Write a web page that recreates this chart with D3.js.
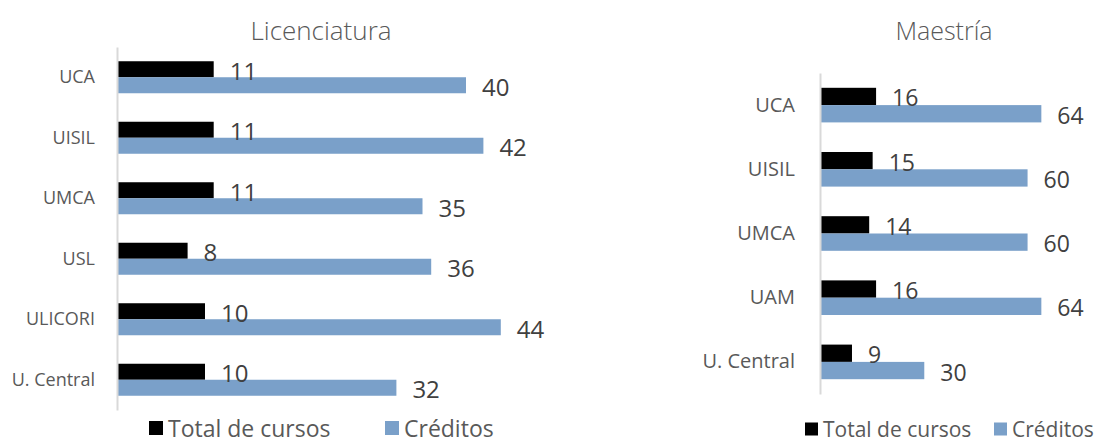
<!DOCTYPE html>
<html>
<head>
<meta charset="utf-8">
<script src="https://cdn.jsdelivr.net/npm/d3@7"></script>
<style>
  body { margin: 0; background: #fff; }
  svg { display: block; font-family: "Open Sans", sans-serif; }
</style>
</head>
<body>
<div class="canvas"></div>
<script>
// data
const seriesNames = ['Total de cursos', 'Créditos'];

const licCategories = ['UCA', 'UISIL', 'UMCA', 'USL', 'ULICORI', 'U. Central'];
const licCursos = [11, 11, 11, 8, 10, 10];
const licCreditos = [40, 42, 35, 36, 44, 32];

const maeCategories = ['UCA', 'UISIL', 'UMCA', 'UAM', 'U. Central'];
const maeCursos = [16, 15, 14, 16, 9];
const maeCreditos = [64, 60, 60, 64, 30];

const colors = ['#000000', '#7aa0c9'];

const svg = d3.select('.canvas')
  .append('svg')
  .attr('width', 1099)
  .attr('height', 443);

// draws one horizontal grouped bar panel
const drawPanel = (cfg) => {
  const g = svg.append('g');

  const rows = cfg.categories.map((c, i) => ({cat: c, values: [cfg.cursos[i], cfg.creditos[i]]}));

  const x = d3.scaleLinear()
    .domain([0, cfg.xMax])
    .range([cfg.x0, cfg.x1]);

  const y = d3.scaleBand()
    .domain(cfg.categories)
    .range([cfg.y0, cfg.y1])
    .paddingInner(cfg.pad)
    .paddingOuter(cfg.pad / 2);

  const ySub = d3.scaleBand()
    .domain(seriesNames)
    .range([0, y.bandwidth()]);

  // title
  g.append('text')
    .attr('x', cfg.titleX)
    .attr('y', 40)
    .attr('text-anchor', 'middle')
    .attr('font-size', cfg.titleSize)
    .attr('font-weight', 300)
    .attr('fill', '#595959')
    .text(cfg.title);

  // bars
  const groups = g.selectAll('.row')
    .data(rows)
    .enter()
    .append('g')
      .attr('class', 'row')
      .attr('transform', d => `translate(0, ${y(d.cat)})`);

  groups.selectAll('rect')
    .data(d => d.values.map((v, i) => ({key: seriesNames[i], value: v, i})))
    .enter()
    .append('rect')
      .attr('x', x(0))
      .attr('y', d => ySub(d.key))
      .attr('width', d => x(d.value) - x(0))
      .attr('height', ySub.bandwidth())
      .attr('fill', d => colors[d.i]);

  groups.selectAll('text')
    .data(d => d.values.map((v, i) => ({key: seriesNames[i], value: v})))
    .enter()
    .append('text')
      .attr('x', d => x(d.value) + cfg.labelGap)
      .attr('y', d => ySub(d.key) + ySub.bandwidth() / 2 + 1)
      .attr('dominant-baseline', 'central')
      .attr('font-size', cfg.labelSize)
      .attr('fill', '#404040')
      .text(d => d.value);

  // category axis
  const axis = g.append('g')
    .attr('transform', `translate(${cfg.axisX}, 0)`)
    .call(d3.axisLeft(y).tickSize(0).tickPadding(cfg.tickPad));

  axis.select('.domain')
    .attr('stroke', '#d9d9d9')
    .attr('stroke-width', 2);

  axis.selectAll('text')
    .attr('font-size', cfg.catSize)
    .attr('font-family', '"Open Sans", sans-serif')
    .attr('fill', '#595959');

  // legend
  const legend = g.selectAll('.legend')
    .data(seriesNames)
    .enter()
    .append('g')
      .attr('class', 'legend')
      .attr('transform', (d, i) => `translate(${cfg.legendX[i]}, ${cfg.legendY})`);

  legend.append('rect')
    .attr('x', 0)
    .attr('y', -cfg.legendBox / 2)
    .attr('width', cfg.legendBox)
    .attr('height', cfg.legendBox)
    .attr('fill', (d, i) => colors[i]);

  legend.append('text')
    .attr('x', cfg.legendBox + 5)
    .attr('y', 0)
    .attr('dominant-baseline', 'central')
    .attr('font-size', cfg.legendSize)
    .attr('fill', '#595959')
    .text(d => d);
};

drawPanel({
  title: 'Licenciatura', titleX: 321, titleSize: 26,
  categories: licCategories, cursos: licCursos, creditos: licCreditos,
  xMax: 50, x0: 118, x1: 553,
  y0: 47, y1: 410, pad: 0.471,
  axisX: 117, tickPad: 22, catSize: 18,
  labelSize: 24, labelGap: 16,
  legendX: [149, 385], legendY: 428, legendBox: 14, legendSize: 23
});

drawPanel({
  title: 'Maestría', titleX: 944, titleSize: 25,
  categories: maeCategories, cursos: maeCursos, creditos: maeCreditos,
  xMax: 70, x0: 821, x1: 1062,
  y0: 73, y1: 394, pad: 0.461,
  axisX: 820, tickPad: 25, catSize: 20,
  labelSize: 23, labelGap: 16,
  legendX: [805, 994], legendY: 429, legendBox: 13, legendSize: 21
});
</script>
</body>
</html>
